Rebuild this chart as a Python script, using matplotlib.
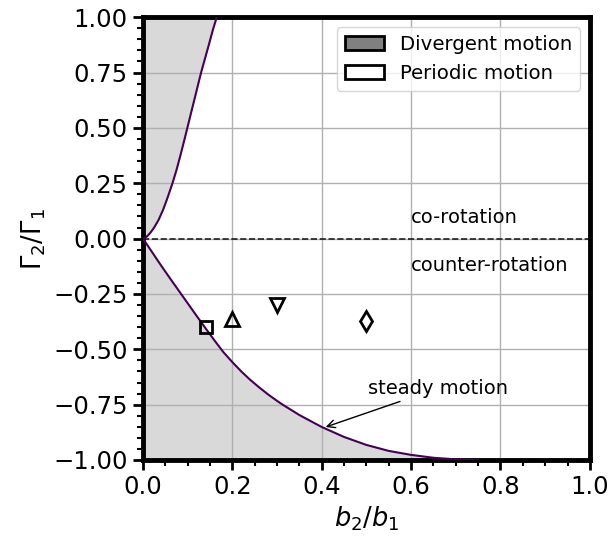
import matplotlib
matplotlib.use("Agg")
import matplotlib.pyplot as plt
from matplotlib.patches import Patch
from matplotlib.ticker import MultipleLocator

# Boundary curves
upper_x = [0, 0.008, 0.016, 0.025, 0.035, 0.045, 0.055, 0.066, 0.075, 0.083, 0.09,
           0.098, 0.106, 0.114, 0.122, 0.130, 0.139, 0.148, 0.156, 0.165]
upper_y = [0, 0.008, 0.025, 0.05, 0.085, 0.13, 0.185, 0.25, 0.31, 0.37, 0.425,
           0.49, 0.555, 0.62, 0.685, 0.75, 0.815, 0.88, 0.94, 1.0]

lower_x = [0, 0.02, 0.04, 0.06, 0.08, 0.10, 0.12, 0.14, 0.16, 0.18, 0.20, 0.22,
           0.24, 0.26, 0.28, 0.30, 0.3125, 0.35, 0.40, 0.45, 0.50, 0.55, 0.60,
           0.65, 0.70, 0.75]
lower_y = [0, -0.06, -0.12, -0.178, -0.235, -0.292, -0.349, -0.405, -0.46, -0.513,
           -0.558, -0.600, -0.638, -0.672, -0.704, -0.733, -0.750, -0.797, -0.851,
           -0.896, -0.932, -0.959, -0.977, -0.990, -0.997, -1.0]

# Case markers
case_x = [0.14, 0.2, 0.3, 0.5]
case_y = [-0.40, -0.363, -0.302, -0.374]
case_markers = ["s", "^", "v", "d"]

xticks = [0.0, 0.2, 0.4, 0.6, 0.8, 1.0]
yticks = [-1.0, -0.75, -0.5, -0.25, 0.0, 0.25, 0.5, 0.75, 1.0]

fig = plt.figure(figsize=(6.1, 5.38), dpi=100)
ax = fig.add_axes([0.2344, 0.145, 0.967 - 0.2344, 0.968 - 0.145])

fillc = "#d9d9d9"
linec = "#440154"
ax.fill_between(lower_x + [1.0], lower_y + [-1.0], -1, color=fillc, lw=0, zorder=1)
ax.fill_betweenx(upper_y, 0, upper_x, color=fillc, lw=0, zorder=1)
ax.plot(upper_x, upper_y, color=linec, lw=1.5, zorder=3)
ax.plot(lower_x, lower_y, color=linec, lw=1.5, zorder=3)

ax.axhline(0, color="k", ls="--", lw=1.2, alpha=0.85, zorder=2)

for x, y, m in zip(case_x, case_y, case_markers):
    ms = 9 if m == "s" else 10
    ax.plot([x], [y], marker=m, ms=ms, mfc="none", mec="k", mew=2, ls="none", zorder=4)

ax.text(0.6, 0.095, "co-rotation", fontsize=14, ha="left", va="center")
ax.text(0.6, -0.12, "counter-rotation", fontsize=14, ha="left", va="center")
ax.annotate("steady motion", xy=(0.403, -0.855), xytext=(0.661, -0.676),
            fontsize=14, ha="center", va="center",
            arrowprops=dict(arrowstyle="->", color="k", lw=1.0))

ax.set_xlim(0, 1)
ax.set_ylim(-1, 1)
ax.set_xticks(xticks)
ax.set_yticks(yticks)
ax.set_xticklabels([f"{v:.1f}" for v in xticks])
ax.set_yticklabels([f"{v:.2f}".replace("-", "\u2212") for v in yticks])
ax.xaxis.set_minor_locator(MultipleLocator(0.05))
ax.yaxis.set_minor_locator(MultipleLocator(0.05))
ax.tick_params(which="major", length=7, width=2, labelsize=17.5, pad=4)
ax.tick_params(which="minor", length=4, width=1.5)
ax.grid(True, which="major", color="#b0b0b0", lw=1)
for s in ax.spines.values():
    s.set_linewidth(3.5)

ax.set_xlabel(r"$b_2/b_1$", fontsize=18.5)
ax.set_ylabel(r"$\Gamma_2/\Gamma_1$", fontsize=18.5)

handles = [Patch(facecolor="gray", edgecolor="k", lw=2, label="Divergent motion"),
           Patch(facecolor="white", edgecolor="k", lw=2, label="Periodic motion")]
ax.legend(handles=handles, loc="upper right", fontsize=14.2)

fig.savefig("out.png", dpi=100)
